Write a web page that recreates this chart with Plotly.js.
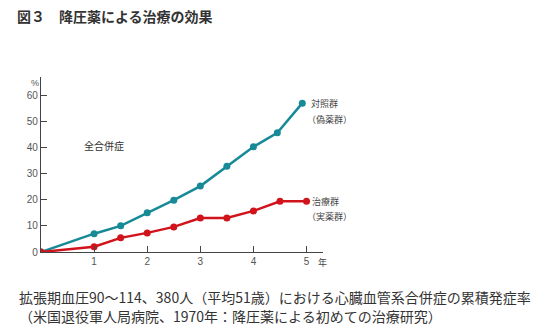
<!DOCTYPE html>
<html><head><meta charset="utf-8">
<script src="https://cdn.plot.ly/plotly-3.0.1.min.js"></script>
<style>body{margin:0;background:#fff}#c{width:557px;height:335px}</style>
</head><body><div id="c"></div>
<script>
const controlYears = [0, 1, 1.5, 2, 2.5, 3, 3.5, 4, 4.45, 4.92];
const controlRate  = [0, 7.0, 10.0, 15.0, 19.8, 25.2, 32.8, 40.2, 45.6, 56.9];
const treatYears   = [0, 1, 1.5, 2, 2.5, 3, 3.5, 4, 4.5, 5];
const treatRate    = [0, 2.0, 5.4, 7.3, 9.6, 13.0, 13.0, 15.7, 19.4, 19.4];
const xTicks = [1, 2, 3, 4, 5];
const yTicks = [0, 10, 20, 30, 40, 50, 60];
const titleText = "図３　降圧薬による治療の効果";
const caption1 = "拡張期血圧90～114、380人（平均51歳）における心臓血管系合併症の累積発症率";
const caption2 = "（米国退役軍人局病院、1970年：降圧薬による初めての治療研究）";

const teal = "#178a98", red = "#d1131b";
const jp = "Noto Sans CJK JP";
const L = 40.5, W = 282.5, T = 77, H = 174.7;
const px = v => (v - L) / W;
const py = v => (T + H - v) / H;

const traces = [
  {x: controlYears, y: controlRate, mode: "lines+markers", line: {color: teal, width: 2.5}, marker: {color: teal, size: 7}},
  {x: treatYears, y: treatRate, mode: "lines+markers", line: {color: red, width: 2.5}, marker: {color: red, size: 7}}
];
const small = {family: jp, size: 9, color: "#444"};
const layout = {
  width: 557, height: 335, showlegend: false,
  paper_bgcolor: "#fff", plot_bgcolor: "#fff",
  margin: {l: L, r: 557 - L - W, t: T, b: 335 - T - H},
  title: {text: "<b>" + titleText + "</b>", x: 17/557, xanchor: "left", xref: "container", y: 1 - 17/335, yanchor: "middle", yref: "container", font: {family: jp, size: 14, color: "#333"}},
  xaxis: {range: [0, 5.31], tickvals: xTicks, ticks: "inside", ticklen: 6, tickcolor: "#444", showgrid: false, zeroline: false, showline: true, linecolor: "#444", linewidth: 1.2, tickfont: {family: "Liberation Sans", size: 10, color: "#555"}, fixedrange: true},
  yaxis: {range: [0, 66.9], tickvals: yTicks, ticks: "inside", ticklen: 6, tickcolor: "#444", showgrid: false, zeroline: false, showline: true, linecolor: "#444", linewidth: 1.2, tickfont: {family: "Liberation Sans", size: 10, color: "#555"}, fixedrange: true},
  annotations: [
    {xref: "paper", yref: "paper", x: px(34), y: py(83), text: "%", showarrow: false, xanchor: "center", yanchor: "middle", font: {family: "Liberation Sans", size: 9, color: "#555"}},
    {xref: "paper", yref: "paper", x: px(316), y: py(262), text: "年", showarrow: false, xanchor: "left", yanchor: "middle", font: small},
    {xref: "paper", yref: "paper", x: px(82), y: py(145), text: "全合併症", showarrow: false, xanchor: "left", yanchor: "middle", font: {family: jp, size: 10, color: "#333"}},
    {xref: "paper", yref: "paper", x: px(309), y: py(103), text: "対照群", showarrow: false, xanchor: "left", yanchor: "middle", font: small},
    {xref: "paper", yref: "paper", x: px(305), y: py(119), text: "（偽薬群）", showarrow: false, xanchor: "left", yanchor: "middle", font: small},
    {xref: "paper", yref: "paper", x: px(310), y: py(201), text: "治療群", showarrow: false, xanchor: "left", yanchor: "middle", font: small},
    {xref: "paper", yref: "paper", x: px(305), y: py(216), text: "（実薬群）", showarrow: false, xanchor: "left", yanchor: "middle", font: small},
    {xref: "paper", yref: "paper", x: px(16), y: py(297), text: caption1, showarrow: false, xanchor: "left", yanchor: "middle", font: {family: jp, size: 14, color: "#333"}},
    {xref: "paper", yref: "paper", x: px(16), y: py(316), text: caption2, showarrow: false, xanchor: "left", yanchor: "middle", font: {family: jp, size: 14, color: "#333"}}
  ]
};
Plotly.newPlot("c", traces, layout, {displayModeBar: false, staticPlot: true});
</script></body></html>
